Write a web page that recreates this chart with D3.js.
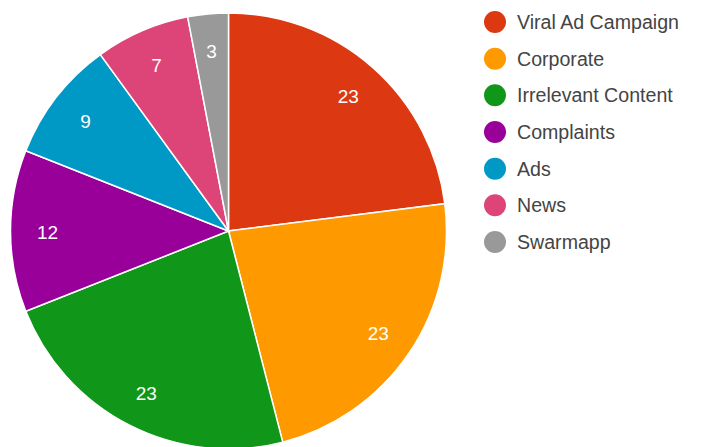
<!DOCTYPE html>
<html>
<head>
<meta charset="utf-8">
<script src="https://cdn.jsdelivr.net/npm/d3@7"></script>
<style>
  html, body { margin: 0; padding: 0; background: #fff; }
  svg { display: block; font-family: Arial, "Liberation Sans", sans-serif; }
</style>
</head>
<body>
<svg id="chart" width="714" height="447"></svg>
<script>
// Categories and their counts, drawn clockwise from 12 o'clock
const categories = ["Viral Ad Campaign", "Corporate", "Irrelevant Content", "Complaints", "Ads", "News", "Swarmapp"];
const values = [23, 23, 23, 12, 9, 7, 3];
const colors = ["#dc3912", "#ff9900", "#109618", "#990099", "#0099c6", "#dd4477", "#999999"];

const svg = d3.select("#chart");
const cx = 228.5, cy = 231, radius = 218;

const data = categories.map((c, i) => ({ name: c, value: values[i], color: colors[i] }));

const pie = d3.pie().value(d => d.value).sort(null);
const arc = d3.arc().innerRadius(0).outerRadius(radius);
const labelArc = d3.arc().innerRadius(181).outerRadius(181);

const g = svg.append("g").attr("transform", `translate(${cx},${cy})`);
const arcs = pie(data);

g.selectAll("path.slice")
  .data(arcs)
  .join("path")
  .attr("class", "slice")
  .attr("d", arc)
  .attr("fill", d => d.data.color)
  .attr("stroke", "#fff")
  .attr("stroke-width", 1.5);

g.selectAll("text.val")
  .data(arcs)
  .join("text")
  .attr("class", "val")
  .attr("transform", d => `translate(${labelArc.centroid(d)})`)
  .attr("text-anchor", "middle")
  .attr("dy", "0.4em")
  .attr("fill", "#fff")
  .attr("font-size", 19)
  .text(d => d.data.value);

// Legend
const legendY = d3.scalePoint().domain(categories).range([22, 242]);
const legend = svg.append("g");
const items = legend.selectAll("g")
  .data(data)
  .join("g")
  .attr("transform", d => `translate(0,${legendY(d.name)})`);
items.append("circle")
  .attr("cx", 495)
  .attr("cy", 0)
  .attr("r", 11)
  .attr("fill", d => d.color);
items.append("text")
  .attr("x", 517)
  .attr("y", 0)
  .attr("dy", "0.36em")
  .attr("font-size", 19.6)
  .attr("fill", "#444")
  .text(d => d.name);
</script>
</body>
</html>
